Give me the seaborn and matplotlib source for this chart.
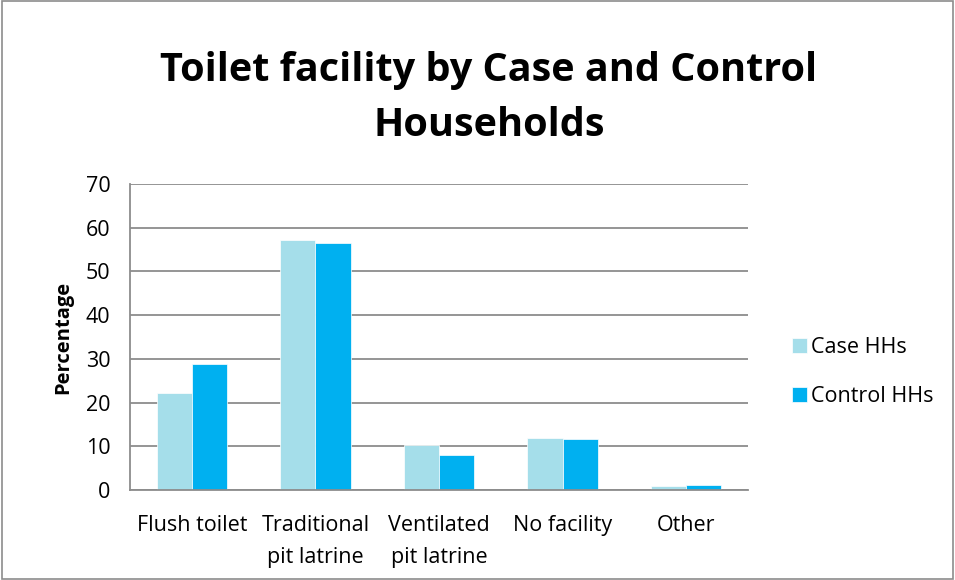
import matplotlib
matplotlib.use("Agg")
import matplotlib.pyplot as plt
import seaborn as sns
import pandas as pd
import numpy as np
from matplotlib.patches import Rectangle

categories = ["Flush toilet", "Traditional\npit latrine", "Ventilated\npit latrine", "No facility", "Other"]
case_hhs = [22.3, 57.2, 10.4, 12.0, 1.0]
control_hhs = [28.8, 56.4, 8.0, 11.6, 1.1]
series = ["Case HHs", "Control HHs"]
colors = ["#A5DEEA", "#00B0F0"]

df = pd.DataFrame({
    "Category": categories * 2,
    "Value": case_hhs + control_hhs,
    "Series": [series[0]] * 5 + [series[1]] * 5,
})

sns.set_style("white")
plt.rcParams["font.family"] = ["Open Sans", "DejaVu Sans"]
plt.rcParams["text.color"] = "black"
plt.rcParams["xtick.color"] = "black"
plt.rcParams["ytick.color"] = "black"
plt.rcParams["axes.labelcolor"] = "black"

fig = plt.figure(figsize=(9.55, 5.8), dpi=100)
ax = fig.add_axes([130/955, 1 - 490/580, (748-130)/955, (490-184)/580])

sns.barplot(data=df, x="Category", y="Value", hue="Series", palette=colors,
            width=0.57, ax=ax, saturation=1, legend=True, linewidth=0.5, edgecolor="white")

ax.set_ylim(0, 70)
ax.set_xlim(-0.5, 4.5)
ax.set_yticks(range(0, 71, 10))
ax.yaxis.grid(True, color="#8C8C8C", linewidth=1.3)
ax.set_axisbelow(True)
ax.tick_params(axis="y", labelsize=15.5, length=6, color="#8C8C8C", labelcolor="black", width=1.3, pad=8)
ax.set_xticks(range(5))
ax.set_xticklabels(categories, fontsize=15.5, linespacing=1.7)
ax.tick_params(axis="x", length=0, pad=18, labelcolor="black")
ax.set_xticks(np.arange(-0.5, 5, 1), minor=True)
ax.tick_params(axis="x", which="minor", length=6, color="#8C8C8C", width=1.3)
for s in ["top", "right"]:
    ax.spines[s].set_visible(False)
for s in ["left", "bottom"]:
    ax.spines[s].set_color("#8C8C8C")
    ax.spines[s].set_linewidth(1.3)
ax.set_xlabel("")
ax.set_ylabel("Percentage", fontsize=14.5, fontweight="bold", labelpad=9, color="black")

ax.legend(loc="center left", bbox_to_anchor=(1.04, 0.385), frameon=False,
          fontsize=15.5, handlelength=0.7, handleheight=0.7, labelspacing=1.3,
          handletextpad=0.2)

fig.text(489/955, 1 - 71/580, "Toilet facility by Case and Control", ha="center", va="center",
         fontsize=28.5, fontweight="bold", color="black")
fig.text(489/955, 1 - 126/580, "Households", ha="center", va="center",
         fontsize=28.5, fontweight="bold", color="black")

fig.patches.append(Rectangle((0.002, 0.002), 0.996, 0.996, transform=fig.transFigure,
                             fill=False, edgecolor="#8C8C8C", linewidth=1.2))

fig.savefig("out.png", dpi=100)
